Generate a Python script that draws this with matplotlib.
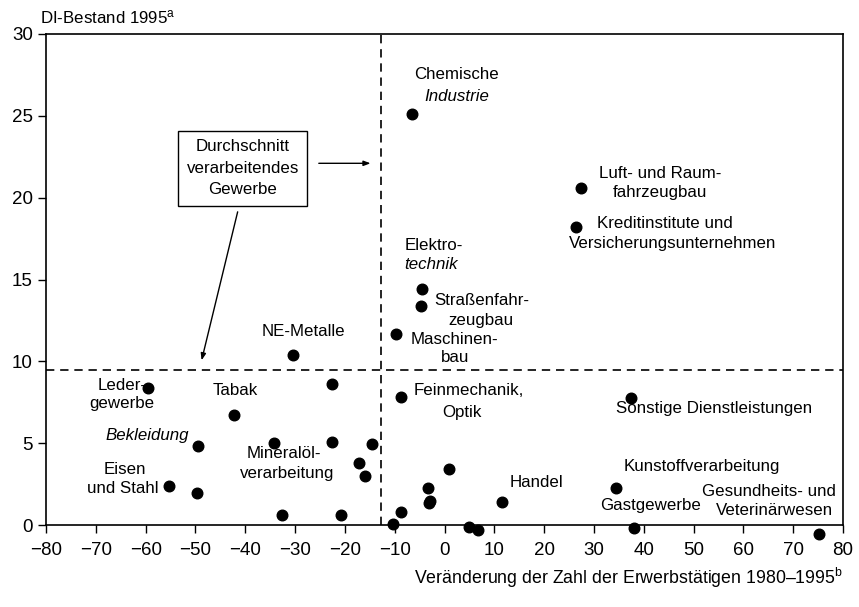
import matplotlib
matplotlib.use("Agg")
import matplotlib.pyplot as plt

plt.rcParams['font.family'] = ['Liberation Sans', 'DejaVu Sans']
plt.rcParams['mathtext.fontset'] = 'custom'
plt.rcParams['mathtext.rm'] = 'Liberation Sans'
plt.rcParams['mathtext.it'] = 'Liberation Sans:italic'

# --- Daten: Veränderung Erwerbstätige (x) und DI-Bestand (y) ---
x_vals = [-6.5, 27.4, 26.4, -4.5, -4.8, -9.7, -30.4, -22.5, -8.7, -59.5,
          -42.2, -49.5, -55.3, -49.7, -34.3, -22.6, -14.6, -17.2, -16.0, -32.7,
          -20.8, -10.3, -8.8, -3.4, -2.9, -3.2, 0.8, 5.0, 6.8, 11.6,
          37.5, 34.4, 38.1, 75.1]
y_vals = [25.1, 20.6, 18.2, 14.4, 13.4, 11.7, 10.4, 8.6, 7.84, 8.4,
          6.7, 4.8, 2.4, 1.93, 5.0, 5.1, 4.93, 3.8, 3.0, 0.63,
          0.6, 0.06, 0.8, 2.24, 1.5, 1.33, 3.4, -0.14, -0.3, 1.43,
          7.74, 2.28, -0.18, -0.55]

avg_x = -12.7   # Durchschnitt verarbeitendes Gewerbe
avg_y = 9.5

x_ticks = list(range(-80, 81, 10))
y_ticks = [0, 5, 10, 15, 20, 25, 30]

# Beschriftungen: (Text, x, y, Ausrichtung, kursiv)
labels = [
    ("Chemische", 2.5, 27.5, 'center', False),
    ("Industrie", 2.5, 26.2, 'center', True),
    ("Luft- und Raum-", 43.3, 21.5, 'center', False),
    ("fahrzeugbau", 43.3, 20.3, 'center', False),
    ("Kreditinstitute und", 44.3, 18.4, 'center', False),
    ("Versicherungsunternehmen", 45.8, 17.2, 'center', False),
    ("Elektro-", -8.0, 17.1, 'left', False),
    ("technik", -8.0, 15.9, 'left', True),
    ("Straßenfahr-", 7.4, 13.7, 'center', False),
    ("zeugbau", 7.4, 12.5, 'center', False),
    ("Maschinen-", 2.0, 11.35, 'center', False),
    ("bau", 2.2, 10.25, 'center', False),
    ("NE-Metalle", -28.3, 11.8, 'center', False),
    ("Leder-", -64.8, 8.5, 'center', False),
    ("gewerbe", -64.8, 7.4, 'center', False),
    ("Tabak", -42.0, 8.2, 'center', False),
    ("Bekleidung", -59.7, 5.5, 'center', True),
    ("Eisen", -64.1, 3.4, 'center', False),
    ("und Stahl", -64.5, 2.25, 'center', False),
    ("Mineralöl-", -32.3, 4.4, 'center', False),
    ("verarbeitung", -31.6, 3.15, 'center', False),
    ("Feinmechanik,", 4.8, 8.25, 'center', False),
    ("Optik", 3.5, 6.9, 'center', False),
    ("Sonstige Dienstleistungen", 54.1, 7.1, 'center', False),
    ("Kunstoffverarbeitung", 51.7, 3.6, 'center', False),
    ("Handel", 18.4, 2.6, 'center', False),
    ("Gastgewerbe", 41.4, 1.22, 'center', False),
    ("Gesundheits- und", 65.2, 2.03, 'center', False),
    ("Veterinärwesen", 66.3, 0.87, 'center', False),
]

fig = plt.figure(figsize=(8.59, 6.07), dpi=100)
ax = fig.add_axes([0.0536, 0.135, 0.9278, 0.809])

ax.scatter(x_vals, y_vals, s=58, color='black', zorder=3, clip_on=False)

ax.axvline(avg_x, color='black', lw=1.2, ls=(0, (5, 3.5)), zorder=2)
ax.axhline(avg_y, color='black', lw=1.2, ls=(0, (5, 3.5)), zorder=2)

for txt, tx, ty, ha, it in labels:
    ax.text(tx, ty, txt, ha=ha, va='center', fontsize=12.2,
            style='italic' if it else 'normal')

# Kasten mit Pfeilen
ax.text(-40.5, 21.8, "Durchschnitt\nverarbeitendes\nGewerbe", ha='center',
        va='center', fontsize=12.2, linespacing=1.55,
        bbox=dict(boxstyle='square,pad=0.5', fc='white', ec='black', lw=1.0))
ax.annotate("", xy=(-14.3, 22.1), xytext=(-25.8, 22.1),
            arrowprops=dict(arrowstyle='-|>,head_length=0.4,head_width=0.15',
                            color='black', lw=1.0))
ax.annotate("", xy=(-48.9, 9.9), xytext=(-41.4, 19.3),
            arrowprops=dict(arrowstyle='-|>,head_length=0.4,head_width=0.15',
                            color='black', lw=1.0))

ax.set_xlim(-80, 80)
ax.set_ylim(0, 30)
ax.set_xticks(x_ticks)
ax.set_yticks(y_ticks)
ax.tick_params(axis='both', labelsize=13.5, length=6, width=1.0, direction='out')
ax.tick_params(axis='x', pad=6)
for sp in ax.spines.values():
    sp.set_linewidth(1.2)

fig.text(0.046, 0.972, r"DI-Bestand 1995$^{\mathrm{a}}$", ha='left', va='center',
         fontsize=12.2)
fig.text(0.981, 0.048, r"Veränderung der Zahl der Erwerbstätigen 1980–1995$^{\mathrm{b}}$",
         ha='right', va='center', fontsize=12.8)

fig.savefig("out.png", dpi=100)
